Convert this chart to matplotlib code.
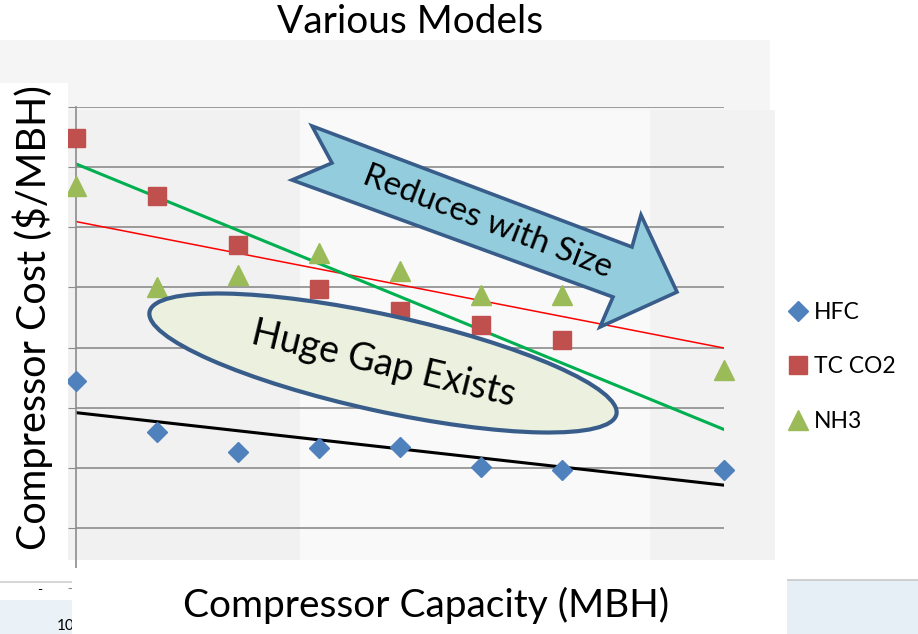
import numpy as np
import matplotlib
matplotlib.use("Agg")
from matplotlib import pyplot as plt
from matplotlib.patches import Rectangle, Polygon, Ellipse
from matplotlib.lines import Line2D

plt.rcParams["font.family"] = ["Lato", "DejaVu Sans"]

# data (x = capacity slot, y = cost)
hfc_x = [0, 1, 2, 3, 4, 5, 6, 8]
hfc_y = [3.45, 2.6, 2.27, 2.33, 2.35, 2.02, 1.97, 1.97]
co2_x = [0, 1, 2, 3, 4, 5, 6]
co2_y = [7.48, 6.52, 5.7, 4.98, 4.6, 4.38, 4.12]
nh3_x = [0, 1, 2, 3, 4, 5, 6, 8]
nh3_y = [6.68, 5.0, 5.2, 5.58, 5.28, 4.88, 4.88, 3.63]
series_names = ["HFC", "TC CO2", "NH3"]

W, H = 918, 634
fig = plt.figure(figsize=(W / 100, H / 100), dpi=100)

# background (faded slide template)
bg = fig.add_axes([0, 0, 1, 1], zorder=0)
bg.set_xlim(0, W)
bg.set_ylim(H, 0)
bg.axis("off")
bg.add_patch(Rectangle((0, 40), 770, 70, color="#f5f5f5", lw=0))
bg.add_patch(Rectangle((0, 110), 300, 450, color="#f1f1f1", lw=0))
bg.add_patch(Rectangle((300, 110), 350, 450, color="#f9f9f9", lw=0))
bg.add_patch(Rectangle((650, 110), 125, 450, color="#f2f2f2", lw=0))

# main chart
ax = fig.add_axes([76 / W, (H - 588) / H, (724 - 76) / W, (588 - 107) / H], zorder=1)
ax.patch.set_alpha(0)
ax.set_xlim(0, 8)
ax.set_ylim(0, 8)
ax.set_yticks(range(0, 9))
ax.set_xticks([])
ax.yaxis.grid(True, color="#8c8c8c", lw=1.2)
ax.set_axisbelow(True)
ax.tick_params(axis="y", length=6, color="#8c8c8c", labelleft=False)
for s in ["top", "right", "bottom"]:
    ax.spines[s].set_visible(False)
ax.spines["left"].set_color("#8c8c8c")
ax.spines["left"].set_linewidth(1.2)

# trendlines (linear fits)
xx = np.array([0, 8])
p = np.polyfit(hfc_x, hfc_y, 1)
ax.plot(xx, np.polyval(p, xx), color="black", lw=2.2, zorder=2)
p = np.polyfit(nh3_x, nh3_y, 1)
ax.plot(xx, np.polyval(p, xx), color="#ff0000", lw=1.1, zorder=2)
p = np.polyfit(co2_x, co2_y, 1)
ax.plot(xx, np.polyval(p, xx), color="#00b050", lw=2.2, zorder=2)

ax.plot(hfc_x, hfc_y, "D", color="#4f81bd", ms=10, ls="none", zorder=3, clip_on=False)
ax.plot(co2_x, co2_y, "s", color="#c0504d", ms=13, ls="none", zorder=3, clip_on=False)
ax.plot(nh3_x, nh3_y, "^", color="#9bbb59", ms=14, ls="none", zorder=3, clip_on=False)

# overlay: boxes, shapes, labels
ov = fig.add_axes([0, 0, 1, 1], zorder=2)
ov.set_xlim(0, W)
ov.set_ylim(H, 0)
ov.axis("off")
ov.patch.set_alpha(0)

ov.add_patch(Rectangle((0, 83), 68, 490, color="white", lw=0))
ov.add_patch(Rectangle((787, 580), 131, 60, color="#e6eff6", lw=0))
ov.add_patch(Rectangle((0, 600), 72, 40, color="#eaf1f7", lw=0))
ov.plot([787, 918], [580, 580], color="#c8c8c8", lw=1.2)
ov.plot([0, 72], [582, 582], color="#d0d0d0", lw=1.2)
ov.text(40, 590, "-", fontsize=10, ha="center", va="center")
ov.text(57, 626, "10", fontsize=11, va="center", ha="left", zorder=1)
ov.add_patch(Rectangle((72, 568), 715, 70, color="white", lw=0, zorder=2))

ov.text(410, 22, "Various Models", fontsize=28, ha="center", va="center")
ov.text(426, 605, "Compressor Capacity (MBH)", fontsize=28, ha="center", va="center", zorder=3)
ov.text(33, 318, "Compressor Cost ($/MBH)", fontsize=28.5, ha="center", va="center", rotation=90)

arrow_pts = [(312, 126), (632, 247), (641, 215), (677, 292), (600, 327), (613, 297), (292, 180), (332, 163)]
ov.add_patch(Polygon(arrow_pts, closed=True, facecolor="#93cddd", edgecolor="#385d8a", lw=2.6, joinstyle="miter"))
ov.text(488, 222, "Reduces with Size", fontsize=24, ha="center", va="center", rotation=-21, rotation_mode="anchor")

ov.add_patch(Ellipse((383, 363), 478, 96, angle=12.4, facecolor="#ebf1de", edgecolor="#385d8a", lw=3))
ov.text(384, 364, "Huge Gap Exists", fontsize=27, ha="center", va="center", rotation=-13.5, rotation_mode="anchor")

# legend
handles = [
    Line2D([], [], marker="D", color="#4f81bd", ls="none", ms=10),
    Line2D([], [], marker="s", color="#c0504d", ls="none", ms=13),
    Line2D([], [], marker="^", color="#9bbb59", ls="none", ms=14),
]
fig.legend(handles, series_names, loc="center left", bbox_to_anchor=(789 / W, 1 - 367 / H),
           frameon=False, fontsize=16.5, handlelength=0.8, handletextpad=0.3, labelspacing=1.45,
           borderpad=0, borderaxespad=0)

plt.savefig("out.png", dpi=100)
